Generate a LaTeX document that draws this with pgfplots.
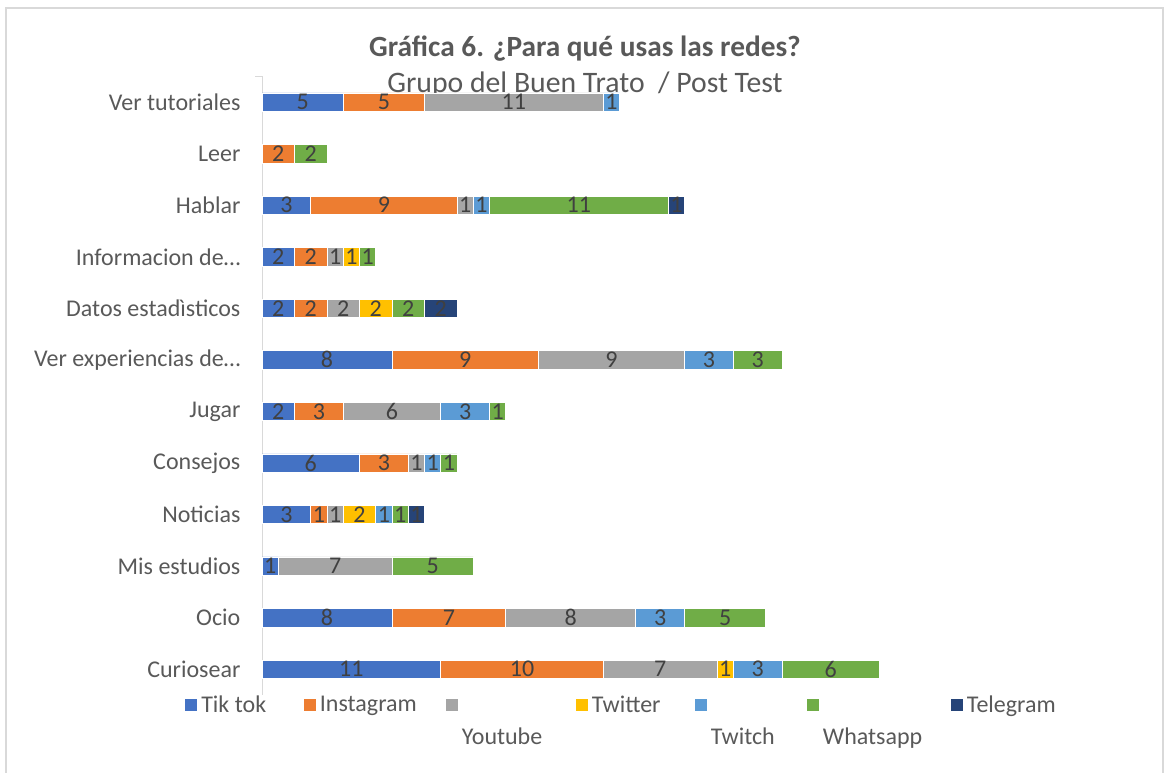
\documentclass[border=0pt]{standalone}
\usepackage{fontspec}
\setmainfont{Carlito}
\usepackage{pgfplots}
\usepackage{pgfplotstable}
\pgfplotsset{compat=1.18}

\definecolor{tiktok}{HTML}{4472C4}
\definecolor{insta}{HTML}{ED7D31}
\definecolor{youtube}{HTML}{A5A5A5}
\definecolor{twitter}{HTML}{FFC000}
\definecolor{twitch}{HTML}{5B9BD5}
\definecolor{whatsapp}{HTML}{70AD47}
\definecolor{telegram}{HTML}{264478}
\definecolor{txt}{HTML}{595959}
\definecolor{lbl}{HTML}{404040}
\definecolor{framegray}{HTML}{D9D9D9}

% idx 0 = Curiosear (bottom) ... 11 = Ver tutoriales (top)
\pgfplotstableread{
idx tiktok insta youtube twitter twitch whatsapp telegram
0   11 10  7 1 3  6 0
1    8  7  8 0 3  5 0
2    1  0  7 0 0  5 0
3    3  1  1 2 1  1 1
4    6  3  1 0 1  1 0
5    2  3  6 0 3  1 0
6    8  9  9 0 3  3 0
7    2  2  2 2 0  2 2
8    2  2  1 1 0  1 0
9    3  9  1 0 1 11 1
10   0  2  0 0 0  2 0
11   5  5 11 0 1  0 0
}\data

\newcommand{\fs}{\fontsize{18}{21}\selectfont}

\begin{document}
\begin{tikzpicture}
\path[use as bounding box] (0,0) rectangle (877.5pt,579.75pt);
\draw[framegray, line width=1.5pt] (4.5pt,-10pt) rectangle (872.5pt,573.4pt);

\node[text=txt, font=\fontsize{22}{26}\selectfont\bfseries] at (438.75pt,543pt) {Gráfica 6. ¿Para qué usas las redes?};
\node[text=txt, font=\fontsize{22.3}{26}\selectfont] at (438.75pt,516pt) {Grupo del Buen Trato \ / Post Test};

\begin{axis}[
    at={(196.5pt,58.5pt)}, anchor=south west,
    scale only axis,
    width=487.5pt, height=464pt,
    xbar stacked,
    bar width=13.7pt,
    xmin=0, xmax=40,
    ymin=-0.5, ymax=11.5,
    axis y line*=left,
    axis x line=none,
    y axis line style={draw=framegray, line width=0.75pt},
    ytick={0,...,11},
    yticklabels={Curiosear, Ocio, Mis estudios, Noticias, Consejos, Jugar,
        Ver experiencias de…, Datos estadìsticos, Informacion de…, Hablar, Leer, Ver tutoriales},
    major tick length=0pt,
    yticklabel style={font=\fs, text=txt, inner xsep=0pt, xshift=-16pt},
    extra y ticks={11.5},
    extra y tick labels={},
    extra y tick style={major tick length=5pt, tick align=outside, tick style={draw=framegray, line width=0.75pt}},
    point meta=explicit,
    nodes near coords={\pgfmathfloatifflags{\pgfplotspointmeta}{0}{}{\pgfmathprintnumber[assume math mode=true]{\pgfplotspointmeta}}},
    every node near coord/.append style={font=\fs, text=lbl, anchor=center, inner sep=0pt},
    legend style={at={(axis description cs:-0.1246,-0.0162)}, anchor=west,
        draw=none, fill=none, legend columns=7, column sep=0pt,
        nodes={inner sep=0pt}, font=\fs, text=txt},
    legend image code/.code={\fill[#1,draw=none] (0pt,-4.5pt) rectangle (9pt,4.5pt);},
]
\addplot[fill=tiktok, draw=white, line width=0.4pt]
    table[x=tiktok, y=idx, meta=tiktok] {\data};
\addlegendentry{\hspace{3pt}\makebox[77pt][l]{Tik tok}}
\addplot[fill=insta, draw=white, line width=0.4pt]
    table[x=insta, y=idx, meta=insta] {\data};
\addlegendentry{\hspace{3pt}\makebox[94.5pt][l]{Instagram}}
\addplot[fill=youtube, draw=white, line width=0.4pt]
    table[x=youtube, y=idx, meta=youtube] {\data};
\addlegendentry{\hspace{3pt}\makebox[85.5pt][l]{\raisebox{-30.5pt}[0pt][0pt]{Youtube}}}
\addplot[fill=twitter, draw=white, line width=0.4pt]
    table[x=twitter, y=idx, meta=twitter] {\data};
\addlegendentry{\hspace{3pt}\makebox[77.25pt][l]{Twitter}}
\addplot[fill=twitch, draw=white, line width=0.4pt]
    table[x=twitch, y=idx, meta=twitch] {\data};
\addlegendentry{\hspace{3pt}\makebox[72pt][l]{\raisebox{-30.5pt}[0pt][0pt]{Twitch}}}
\addplot[fill=whatsapp, draw=white, line width=0.4pt]
    table[x=whatsapp, y=idx, meta=whatsapp] {\data};
\addlegendentry{\hspace{3pt}\makebox[96pt][l]{\raisebox{-30.5pt}[0pt][0pt]{Whatsapp}}}
\addplot[fill=telegram, draw=white, line width=0.4pt]
    table[x=telegram, y=idx, meta=telegram] {\data};
\addlegendentry{\hspace{3pt}Telegram}
\end{axis}
\end{tikzpicture}
\end{document}
